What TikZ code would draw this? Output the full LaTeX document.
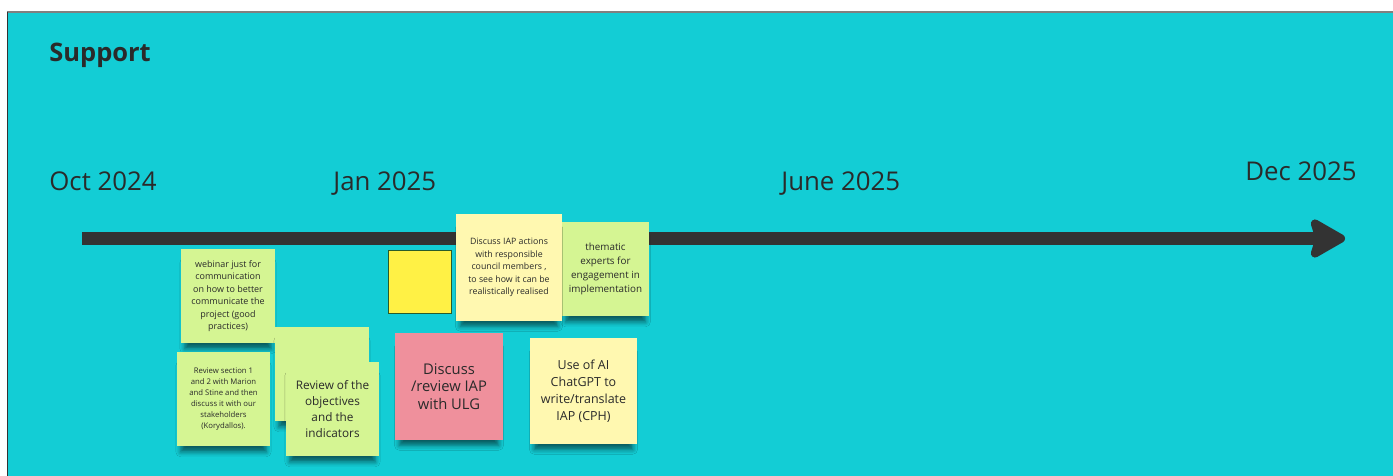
\documentclass[tikz,border=0pt]{standalone}
\usepackage{fontspec}
\setmainfont{Open Sans}
\usepackage{tikz}
\usetikzlibrary{
  positioning,
  arrows.meta,
  shadows.blur
}
\usepackage{xcolor}
\definecolor{boardcyan}{HTML}{13CDD5}
\definecolor{stickgreen}{HTML}{D5F593}
\definecolor{stickyellow}{HTML}{FFF8B0}
\definecolor{stickpink}{HTML}{EF909C}
\definecolor{brightyellow}{HTML}{FFF145}
\definecolor{inkgray}{HTML}{2A2A2A}
\definecolor{linegray}{HTML}{333333}

\begin{document}
\begin{tikzpicture}[x=0.02cm,y=-0.02cm,
    sticky/.style={inner sep=0pt,align=center,text=inkgray,
      blur shadow={shadow xshift=0pt,shadow yshift=-6pt,shadow blur radius=3pt,shadow opacity=55,shadow scale=0.92}},
    datelabel/.style={anchor=base west,inner sep=0pt,text=inkgray,font=\fontsize{14.7}{17}\selectfont}]
            \useasboundingbox (0,0) rectangle (1393,476);
            \fill[white] (0,0) rectangle (1393,476);
            \fill[boardcyan] (8,13) rectangle (1393,476);
            \draw[gray,line width=1.2pt] (7,12) -- (1393,12);
            \draw[linegray,line width=1pt] (7.5,12) -- (7.5,476);
            \node[anchor=base west,inner sep=0pt,text=inkgray,font=\fontsize{14.5}{17}\selectfont\bfseries] (title) at (49,62) {Support};
            % dates
            \node[datelabel] (oct) at (49,191) {Oct 2024};
            \node[datelabel] (jan) at (333,191) {Jan 2025};
            \node[datelabel] (june) at (781,191) {June 2025};
            \node[datelabel] (dec) at (1245,181) {Dec 2025};
            % timeline
            \coordinate (tstart) at (82,238.5);
            \coordinate (tend) at (1345,238.5);
            \draw[linegray,line width=7.4pt,-{Stealth[length=0.82cm,width=0.92cm,inset=0.14cm,round]}] (tstart) -- (tend);
            % notes
            \node[sticky,fill=stickgreen,minimum width=1.88cm,minimum height=1.88cm,font=\fontsize{5.1}{7.1}\selectfont] (webinar) at (228,296)
              {webinar just for\\communication\\on how to better\\communicate the\\project (good\\practices)};
            \node[sticky,fill=stickgreen,minimum width=1.86cm,minimum height=1.88cm,font=\fontsize{4.4}{6.2}\selectfont] (section) at (223.5,399)
              {Review section 1\\and 2 with Marion\\and Stine and then\\discuss it with our\\stakeholders\\(Korydallos).};
            \node[sticky,fill=stickgreen,minimum width=1.88cm,minimum height=1.88cm] (blank) at (322,374) {};
            \node[sticky,fill=stickgreen,minimum width=1.86cm,minimum height=1.88cm,font=\fontsize{6.7}{9}\selectfont] (objectives) at (332.5,409)
              {Review of the\\objectives\\and the\\indicators};
            \node[fill=brightyellow,draw=linegray!80!green,line width=0.8pt,minimum size=1.26cm,inner sep=0pt] (square) at (420,282) {};
            \node[sticky,fill=stickpink,minimum width=2.16cm,minimum height=2.14cm,font=\fontsize{8.4}{9.8}\selectfont] (ulg) at (449,386.5)
              {Discuss\\/review IAP\\with ULG};
            \node[sticky,fill=stickgreen,minimum width=1.74cm,minimum height=1.88cm,font=\fontsize{5.6}{7.9}\selectfont] (thematic) at (605.5,269)
              {thematic\\experts for\\engagement in\\implementation};
            \node[sticky,fill=stickyellow,minimum width=2.12cm,minimum height=2.14cm,font=\fontsize{5}{7.2}\selectfont] (actions) at (509,267.5)
              {Discuss IAP actions\\with responsible\\council members ,\\to see how it can be\\realistically realised};
            \node[sticky,fill=stickyellow,minimum width=2.14cm,minimum height=2.12cm,font=\fontsize{7.1}{9.6}\selectfont] (chatgpt) at (583.5,391)
              {Use of AI\\ChatGPT to\\write/translate\\IAP (CPH)};
        \end{tikzpicture}
\end{document}
